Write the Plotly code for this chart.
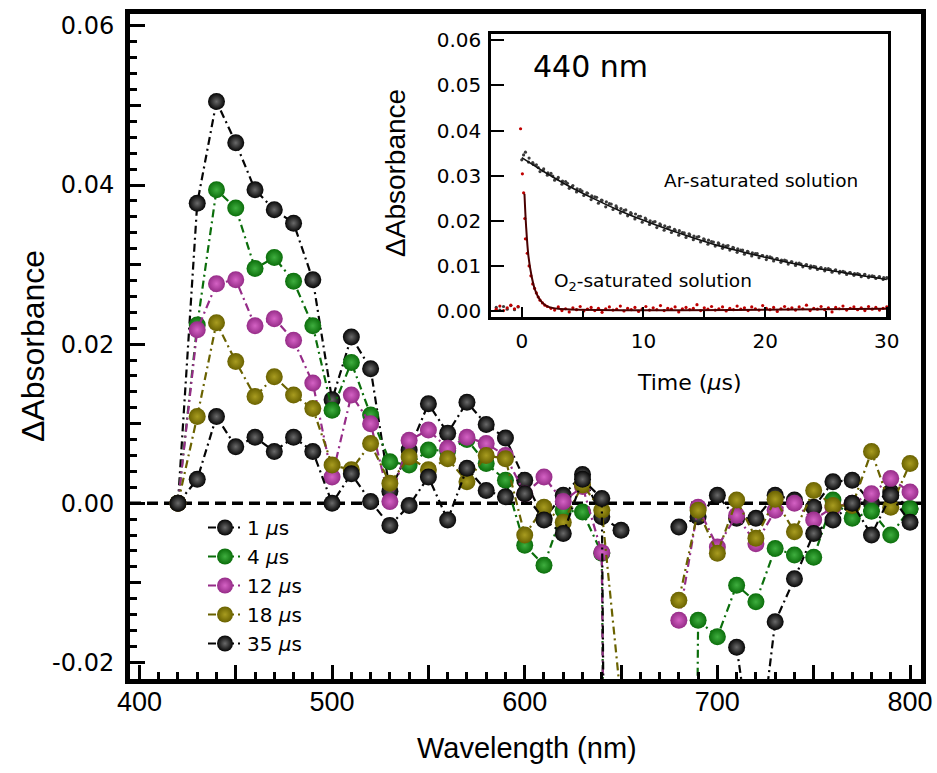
import plotly.graph_objects as go

# ---------------- main chart data ----------------
wavelength = [420, 430, 440, 450, 460, 470, 480, 490, 500, 510, 520, 530, 540, 550, 560, 570, 580, 590,
              600, 610, 620, 630, 640, 650, 660, 670, 680, 690, 700, 710, 720, 730, 740, 750, 760, 770,
              780, 790, 800]

abs_1us = [0.0, 0.0377, 0.0505, 0.0453, 0.0394, 0.0369, 0.0352, 0.0281, 0.0130, 0.0209, 0.0169, 0.0015,
           0.0067, 0.0125, 0.0088, 0.0127, 0.0099, 0.0082, 0.0029, -0.0019, 0.0010, 0.0036, -0.0017,
           -0.0034, None, None, -0.0030, -0.0017, 0.0010, -0.0019, -0.0019, 0.0010, 0.0004, -0.0005,
           0.0027, 0.0029, 0.0000, 0.0014, -0.0007]

abs_4us = [0.0, 0.0224, 0.0394, 0.0371, 0.0295, 0.0309, 0.0279, 0.0223, 0.0117, 0.0177, 0.0111, 0.0052,
           0.0048, 0.0067, 0.0066, 0.0080, 0.0050, 0.0029, -0.0053, -0.0078, -0.0009, -0.0011, -0.0063,
           -0.30, None, None, -0.30, -0.0147, -0.0168, -0.0103, -0.0124, -0.0057, -0.0065, -0.0068,
           0.0004, -0.0019, -0.0010, -0.0040, -0.0007]

abs_12us = [0.0, 0.0218, 0.0276, 0.0281, 0.0223, 0.0232, 0.0205, 0.0151, 0.0033, 0.0136, 0.0100, 0.0002,
            0.0079, 0.0092, 0.0069, 0.0083, 0.0075, 0.0060, 0.0012, 0.0033, 0.0002, 0.0021, -0.0062,
            -0.30, None, None, -0.0147, -0.0005, -0.0055, -0.0015, -0.0051, -0.0009, 0.0000, -0.0021,
            -0.0005, 0.0000, 0.0012, 0.0031, 0.0014]

abs_18us = [0.0, 0.0109, 0.0227, 0.0178, 0.0134, 0.0159, 0.0136, 0.0119, 0.0048, 0.0042, 0.0075, 0.0025,
            0.0058, 0.0042, 0.0056, 0.0027, 0.0060, 0.0056, -0.0040, -0.0005, -0.0024, 0.0023, -0.0009,
            -0.025, None, None, -0.0122, -0.0009, -0.0063, 0.0004, -0.0044, 0.0005, -0.0036, 0.0016,
            -0.0003, -0.0003, 0.0065, -0.0005, 0.0050]

abs_35us = [0.0, 0.0030, 0.0109, 0.0071, 0.0083, 0.0065, 0.0083, 0.0065, 0.0000, 0.0037, 0.0002, -0.0028,
            -0.0003, 0.0033, -0.0021, 0.0044, 0.0016, 0.0008, 0.0012, -0.0021, -0.0038, 0.0030, 0.0006,
            -0.30, None, None, None, None, None, -0.0181, -0.035, -0.0149, -0.0095, -0.0038, -0.0021,
            0.0000, -0.0040, 0.0010, -0.0024]

series_names = ["1 <i>µ</i>s", "4 <i>µ</i>s", "12 <i>µ</i>s", "18 <i>µ</i>s", "35 <i>µ</i>s"]
series_values = [abs_1us, abs_4us, abs_12us, abs_18us, abs_35us]
series_colors = ["#050505", "#0b6e0b", "#962c88", "#6a6200", "#050505"]
series_centers = ["#6a6a6a", "#3fae3f", "#d462c4", "#a89c20", "#6a6a6a"]

x_tick_vals = [400, 500, 600, 700, 800]
x_tick_text = ["400", "500", "600", "700", "800"]
x_mid_ticks = [450, 550, 650, 750]
y_tick_vals = [-0.02, 0.0, 0.02, 0.04, 0.06]
y_tick_text = ["-0.02", "0.00", "0.02", "0.04", "0.06"]
y_mid_ticks = [-0.01, 0.01, 0.03, 0.05]

# ---------------- inset data (440 nm kinetics) ----------------
ar_pre_t = [-2.1, -1.8, -1.5, -1.2, -0.9, -0.6, -0.3]
ar_pre = [0.0008, 0.0002, 0.0010, 0.0004, 0.0012, 0.0003, 0.0009]
ar_dots = [0.03350, 0.03520, 0.03390, 0.03290, 0.03240, 0.03090, 0.03150, 0.03010, 0.03050, 0.02900,
           0.02960, 0.02810, 0.02870, 0.02720, 0.02780, 0.02640, 0.02690, 0.02560, 0.02610, 0.02470,
           0.02530, 0.02390, 0.02450, 0.02310, 0.02380, 0.02250, 0.02290, 0.02170, 0.02230, 0.02110,
           0.02160, 0.02040, 0.02100, 0.01970, 0.02030, 0.01920, 0.01970, 0.01850, 0.01910, 0.01790,
           0.01850, 0.01740, 0.01790, 0.01680, 0.01740, 0.01630, 0.01690, 0.01580, 0.01640, 0.01530,
           0.01580, 0.01480, 0.01540, 0.01440, 0.01490, 0.01390, 0.01440, 0.01350, 0.01400, 0.01300,
           0.01350, 0.01260, 0.01310, 0.01220, 0.01270, 0.01180, 0.01230, 0.01140, 0.01200, 0.01110,
           0.01160, 0.01080, 0.01130, 0.01040, 0.01090, 0.01010, 0.01060, 0.00980, 0.01030, 0.00950,
           0.00990, 0.00920, 0.00960, 0.00890, 0.00940, 0.00860, 0.00910, 0.00840, 0.00880, 0.00810,
           0.00850, 0.00790, 0.00830, 0.00760, 0.00810, 0.00740, 0.00780, 0.00720, 0.00760, 0.00700,
           0.00740]
ar_dot_t = [round(0.3 * i, 2) for i in range(len(ar_dots))]
ar_dots_b = [0.03460, 0.03300, 0.03250, 0.03180, 0.03110, 0.03060, 0.02990, 0.02930, 0.02880, 0.02830,
             0.02760, 0.02710, 0.02660, 0.02620, 0.02550, 0.02520, 0.02460, 0.02420, 0.02370, 0.02330,
             0.02270, 0.02240, 0.02180, 0.02150, 0.02100, 0.02060, 0.02000, 0.01980, 0.01930, 0.01890,
             0.01860, 0.01810, 0.01780, 0.01730, 0.01710, 0.01660, 0.01650, 0.01600, 0.01570, 0.01530,
             0.01510, 0.01460, 0.01450, 0.01410, 0.01380, 0.01350, 0.01320, 0.01290, 0.01270, 0.01230,
             0.01210, 0.01180, 0.01160, 0.01130, 0.01110, 0.01090, 0.01060, 0.01040, 0.01020, 0.01000,
             0.00980, 0.00950, 0.00940, 0.00920, 0.00900, 0.00880, 0.00860, 0.00850, 0.00830, 0.00810,
             0.00800, 0.00780, 0.00770, 0.00750, 0.00740, 0.00720, 0.00710, 0.00690]
ar_dot_t_b = [round(0.15 + 0.4 * i, 2) for i in range(len(ar_dots_b))]
ar_fit_t = [0, 2, 4, 6, 8, 10, 12, 14, 16, 18, 20, 22, 24, 26, 28, 30]
ar_fit = [0.0340, 0.0306, 0.0275, 0.0248, 0.0223, 0.0201, 0.0181, 0.0163, 0.0146, 0.0132, 0.0119,
          0.0107, 0.0096, 0.0087, 0.0078, 0.0070]

o2_early_t = [-2.1, -1.8, -1.5, -1.2, -0.9, -0.6, -0.3, -0.1, 0.05, 0.15, 0.25, 0.3, 0.45, 0.6, 0.75,
              0.9, 1.05, 1.2, 1.35, 1.5, 1.7, 1.9, 2.1]
o2_early = [0.0004, 0.0011, 0.0001, 0.0007, 0.0013, 0.0005, 0.0010, 0.0404, 0.0304, 0.0262, 0.0205,
            0.0160, 0.0128, 0.0100, 0.0078, 0.0060, 0.0050, 0.0040, 0.0031, 0.0024, 0.0018, 0.0013, 0.0010]
o2_base = [0.0006, 0.0002, 0.0009, 0.0001, 0.0005, -0.0002, 0.0007, 0.0003, 0.0010, 0.0000, 0.0004,
           0.0008, 0.0001, 0.0006, -0.0003, 0.0005, 0.0009, 0.0002, 0.0004, 0.0011, 0.0000, 0.0006,
           0.0003, 0.0008, -0.0001, 0.0005, 0.0010, 0.0002, 0.0007, 0.0003, 0.0012, 0.0001, 0.0006,
           0.0004, 0.0009, -0.0002, 0.0005, 0.0008, 0.0003, 0.0006, 0.0014, 0.0001, 0.0007, 0.0004,
           0.0010, 0.0002, 0.0005, 0.0009, 0.0000, 0.0006, 0.0003, 0.0011, 0.0004, 0.0007, 0.0001,
           0.0009, 0.0005, 0.0002, 0.0012, 0.0006, 0.0003, 0.0008, -0.0001, 0.0005, 0.0010, 0.0004,
           0.0007, 0.0002, 0.0009, 0.0005, 0.0013, 0.0001, 0.0006, 0.0004, 0.0010, 0.0003, 0.0007,
           -0.0002, 0.0008, 0.0005, 0.0011, 0.0002, 0.0006, 0.0009, 0.0003, 0.0007, 0.0001, 0.0010,
           0.0004, 0.0008, 0.0002, 0.0006, 0.0009]
o2_base_t = [round(2.4 + 0.3 * i, 2) for i in range(len(o2_base))]
o2_fit_t = [0.22, 0.35, 0.55, 0.8, 1.05, 1.35, 1.7, 2.2, 3.0, 30.0]
o2_fit = [0.0260, 0.0190, 0.0121, 0.0078, 0.0050, 0.0031, 0.0018, 0.0009, 0.0005, 0.0005]

inset_y_ticks = [0.0, 0.01, 0.02, 0.03, 0.04, 0.05, 0.06]
inset_y_text = ["0.00", "0.01", "0.02", "0.03", "0.04", "0.05", "0.06"]

W, H = 937, 773
def px_x(p):
    return p / W
def px_y(p):
    return 1 - p / H

Y_RANGE = [-0.0221, 0.0615]
X_RANGE = [395.1, 805.7]

fig = go.Figure()

for name, vals, col, cen in zip(series_names, series_values, series_colors, series_centers):
    fig.add_trace(go.Scatter(
        x=wavelength, y=vals, name=name, mode="lines+markers",
        line=dict(color=col, width=2.2, dash="8px,4px,2px,4px"),
        marker=dict(size=17, color=col, gradient=dict(type="radial", color=cen), line=dict(width=0)),
        connectgaps=False, xaxis="x", yaxis="y", cliponaxis=True,
    ))

# invisible helpers for the extra tick axes
fig.add_trace(go.Scatter(x=[wavelength[0]], y=[0], mode="markers", marker=dict(opacity=0),
                         showlegend=False, hoverinfo="skip", xaxis="x", yaxis="y3"))
fig.add_trace(go.Scatter(x=[wavelength[0]], y=[0], mode="markers", marker=dict(opacity=0),
                         showlegend=False, hoverinfo="skip", xaxis="x3", yaxis="y"))

# inset traces
fig.add_trace(go.Scatter(x=ar_pre_t + ar_dot_t + ar_dot_t_b, y=ar_pre + ar_dots + ar_dots_b, mode="markers",
                         marker=dict(size=3.2, color="#3a3a3a"), showlegend=False, xaxis="x2", yaxis="y2"))
fig.add_trace(go.Scatter(x=ar_fit_t, y=ar_fit, mode="lines", line=dict(color="#111111", width=1.6, shape="spline"),
                         showlegend=False, xaxis="x2", yaxis="y2"))
fig.add_trace(go.Scatter(x=o2_early_t + o2_base_t, y=o2_early + o2_base, mode="markers",
                         marker=dict(size=3.2, color="#c00000"), showlegend=False, xaxis="x2", yaxis="y2"))
fig.add_trace(go.Scatter(x=o2_fit_t, y=o2_fit, mode="lines", line=dict(color="#4a0000", width=2, shape="spline"),
                         showlegend=False, xaxis="x2", yaxis="y2"))

main_tick_font = dict(family="DejaVu Sans", size=24, color="black")
sans = "Liberation Sans"

fig.update_layout(
    width=W, height=H,
    margin=dict(l=0, r=0, t=0, b=0, autoexpand=False),
    paper_bgcolor="white", plot_bgcolor="white",
    showlegend=True,
    legend=dict(x=px_x(203), y=px_y(508), xanchor="left", yanchor="top",
                font=dict(family="DejaVu Sans", size=20, color="black"),
                bgcolor="rgba(0,0,0,0)", tracegroupgap=0, itemwidth=34),
    xaxis=dict(domain=[px_x(130), px_x(921)], range=X_RANGE, anchor="y", automargin=False,
               tickmode="array", tickvals=x_tick_vals, ticktext=x_tick_text,
               ticks="inside", ticklen=14, tickwidth=3, tickcolor="black",
               minor=dict(dtick=10, tick0=400, ticks="inside", ticklen=7, tickwidth=3, tickcolor="black"),
               showline=True, linewidth=5, linecolor="black", mirror=True,
               showgrid=False, zeroline=False, ticklabelstandoff=-5,
               tickfont=dict(family=sans, size=27, color="black")),
    xaxis3=dict(overlaying="x", anchor="y", range=X_RANGE, side="bottom", automargin=False,
                tickmode="array", tickvals=x_mid_ticks, ticks="inside", ticklen=14, tickwidth=3,
                tickcolor="black", showticklabels=False, showline=False, showgrid=False, zeroline=False),
    yaxis=dict(domain=[px_y(679), px_y(14)], range=Y_RANGE, anchor="x", automargin=False,
               tickmode="array", tickvals=y_tick_vals, ticktext=y_tick_text,
               ticks="inside", ticklen=15, tickwidth=3, tickcolor="black",
               minor=dict(dtick=0.002, tick0=0, ticks="inside", ticklen=7, tickwidth=3, tickcolor="black"),
               showline=True, linewidth=5, linecolor="black", mirror=True,
               showgrid=False, zeroline=False, ticklabelstandoff=6, tickfont=main_tick_font),
    yaxis3=dict(overlaying="y", anchor="x", range=Y_RANGE, side="left", automargin=False,
                tickmode="array", tickvals=y_mid_ticks, ticks="inside", ticklen=11, tickwidth=3,
                tickcolor="black", showticklabels=False, showline=False, showgrid=False, zeroline=False),
    xaxis2=dict(domain=[px_x(491), px_x(888)], range=[-2.53, 30.1], anchor="y2", automargin=False,
                dtick=10, tick0=0, ticks="inside", ticklen=10, tickwidth=2, tickcolor="black",
                minor=dict(dtick=5, tick0=0, ticks="inside", ticklen=6, tickwidth=2, tickcolor="black"),
                showline=True, linewidth=2.5, linecolor="black", mirror=True,
                showgrid=False, zeroline=False, ticklabelstandoff=4,
                tickfont=dict(family="DejaVu Sans", size=20, color="black")),
    yaxis2=dict(domain=[px_y(317), px_y(34)], range=[-0.00133, 0.0614], anchor="x2", automargin=False,
                tickmode="array", tickvals=inset_y_ticks, ticktext=inset_y_text,
                ticks="inside", ticklen=13, tickwidth=2, tickcolor="black",
                showline=True, linewidth=2.5, linecolor="black", mirror=True,
                showgrid=False, zeroline=False, ticklabelstandoff=3,
                tickfont=dict(family="DejaVu Sans", size=20, color="black")),
    shapes=[dict(type="line", xref="x domain", yref="y", x0=0, x1=1, y0=0, y1=0,
                 line=dict(color="black", width=3.5, dash="11px,6px"), layer="below")],
)

fig.add_annotation(text="ΔAbsorbance", xref="paper", yref="paper", x=px_x(33), y=px_y(346),
                   textangle=-90, showarrow=False, xanchor="center", yanchor="middle",
                   font=dict(family=sans, size=32, color="black"))
fig.add_annotation(text="Wavelength (nm)", xref="paper", yref="paper", x=px_x(527), y=px_y(748),
                   showarrow=False, xanchor="center", yanchor="middle",
                   font=dict(family=sans, size=29, color="black"))
fig.add_annotation(text="ΔAbsorbance", xref="paper", yref="paper", x=px_x(395), y=px_y(173),
                   textangle=-90, showarrow=False, xanchor="center", yanchor="middle",
                   font=dict(family=sans, size=28, color="black"))
fig.add_annotation(text="Time (<i>µ</i>s)", xref="paper", yref="paper", x=px_x(689), y=px_y(383),
                   showarrow=False, xanchor="center", yanchor="middle",
                   font=dict(family="DejaVu Sans", size=22, color="black"))
fig.add_annotation(text="440 nm", xref="paper", yref="paper", x=px_x(590), y=px_y(66),
                   showarrow=False, xanchor="center", yanchor="middle",
                   font=dict(family="DejaVu Sans", size=30, color="black"))
fig.add_annotation(text="Ar-saturated solution", xref="paper", yref="paper", x=px_x(761), y=px_y(180),
                   showarrow=False, xanchor="center", yanchor="middle",
                   font=dict(family="DejaVu Sans", size=18.5, color="black"))
fig.add_annotation(text="O<sub>2</sub>-saturated solution", xref="paper", yref="paper", x=px_x(653),
                   y=px_y(282), showarrow=False, xanchor="center", yanchor="middle",
                   font=dict(family="DejaVu Sans", size=18.5, color="black"))

fig.write_html("out.html")
